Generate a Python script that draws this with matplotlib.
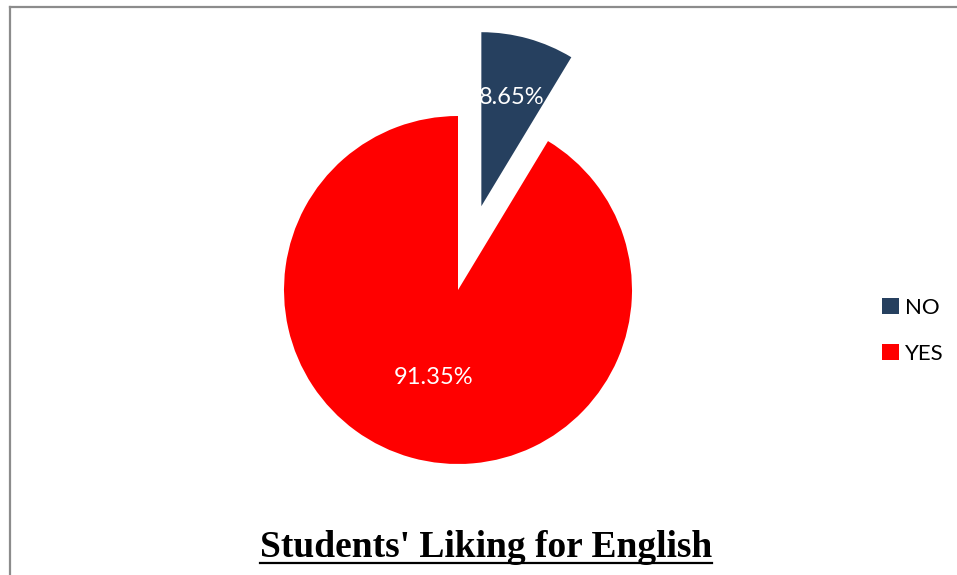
import numpy as np
import matplotlib.pyplot as plt
from matplotlib.lines import Line2D

labels = ['NO', 'YES']
values = [8.65, 91.35]
colors = ['#26405F', '#FF0000']
title = "Students' Liking for English"

W, H = 957, 575
R = 174
fig = plt.figure(figsize=(W / 100, H / 100), dpi=100)
ax = fig.add_axes([0, 0, 1, 1])

# pie drawn in pixel-like data units (y up); explode is in data units
wedges, texts, autotexts = ax.pie(
    values, colors=colors, startangle=90, counterclock=False,
    explode=[0.5 * R, 0], center=(458, H - 290), radius=R,
    autopct='%.2f%%', pctdistance=0.52, frame=True,
    textprops=dict(color='white', fontsize=17, family='Lato'))
ax.set_xlim(0, W)
ax.set_ylim(0, H)
ax.axis('off')

# move the NO label a bit further out inside the exploded slice
w = wedges[0]
mid = np.deg2rad((w.theta1 + w.theta2) / 2)
cx, cy = w.center
autotexts[0].set_position((cx + 0.65 * w.r * np.cos(mid), cy + 0.65 * w.r * np.sin(mid)))

leg = fig.legend(wedges, labels, loc='upper left', bbox_to_anchor=(862 / W, 1 - 278 / H),
                 frameon=False, handlelength=0.75, handleheight=0.75, handletextpad=0.3,
                 labelspacing=1.15, prop=dict(family='Lato', size=16))

t = fig.text(486 / W, 1 - 557 / H, title, ha='center', va='baseline',
             fontsize=27, fontweight='bold', family='Liberation Serif')

# underline under the title
fig.canvas.draw()
bb = t.get_window_extent()
fig.add_artist(Line2D([bb.x0 / W, bb.x1 / W], [(H - 562.5) / H] * 2,
                      transform=fig.transFigure, color='black', lw=1.6))

# chart frame (only top and left edges visible)
fig.add_artist(Line2D([9.5 / W, 1], [1 - 6.5 / H] * 2, transform=fig.transFigure,
                      color='#8C8C8C', lw=1.6))
fig.add_artist(Line2D([9.5 / W] * 2, [0, 1 - 6.5 / H], transform=fig.transFigure,
                      color='#8C8C8C', lw=1.6))

fig.savefig('out.png', dpi=100)
